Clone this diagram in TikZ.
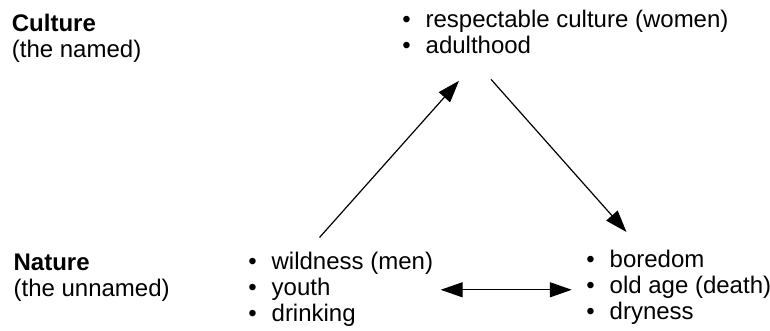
\documentclass[tikz,border=0pt]{standalone}
\usepackage{fontspec}
\setmainfont{Liberation Sans}
\usetikzlibrary{arrows.meta,calc}

\newcommand{\bul}{\textbullet\hspace{0.62em}}

\begin{document}
\begin{tikzpicture}[x=1pt,y=-1pt,->,>={Triangle[length=22pt,width=15pt]},line width=1.2pt,
	label node/.style={anchor=north west,inner sep=0pt,align=left,font={\fontsize{24}{26}\selectfont}},
	list node/.style={label node}]

	\useasboundingbox (0,0) rectangle (770,331);

	\node[label node] (culture) at (11.3,13.8) {\textbf{Culture}\\(the named)};
	\node[label node] (nature) at (13,253.3) {\textbf{Nature}\\(the unnamed)};

	\node[list node] (adult) at (401.8,10) {\bul respectable culture (women)\\\bul adulthood};
	\node[list node] (youth) at (247.8,252) {\bul wildness (men)\\\bul youth\\\bul drinking};
	\node[list node] (age) at (585.8,249.8) {\bul boredom\\\bul old age (death)\\\bul dryness};

	\path[] ($(youth.north west)+(71.7,-14.5)$) edge ($(adult.south west)+(57.2,26)$);
	\path[] ($(adult.south west)+(89.2,24.5)$) edge ($(age.north west)+(40.7,-17.8)$);
	\path[<->] ($(youth.east)+(7,0)$) edge ($(youth.east -| age.west)+(-14,0)$);
\end{tikzpicture}
\end{document}
